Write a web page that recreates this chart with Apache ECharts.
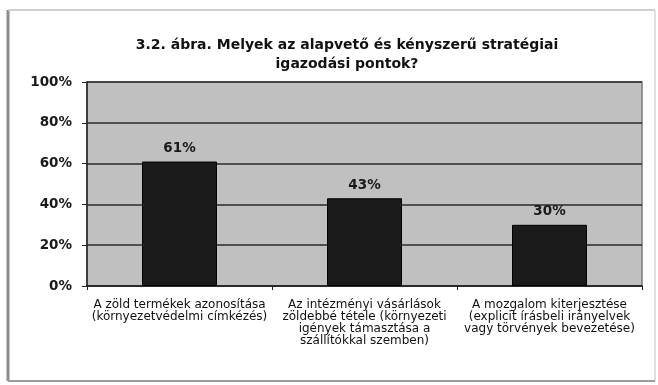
<!DOCTYPE html>
<html>
<head>
<meta charset="utf-8">
<script src="https://cdn.jsdelivr.net/npm/echarts@6/dist/echarts.min.js"></script>
<style>
  html, body { margin: 0; padding: 0; background: #ffffff; }
  #chart { width: 658px; height: 385px; }
</style>
</head>
<body>
<div id="chart"></div>
<script>
// Strategy alignment points: share of respondents (%)
const categories = [
  'A zöld termékek azonosítása\n(környezetvédelmi címkézés)',
  'Az intézményi vásárlások\nzöldebbé tétele (környezeti\nigények támasztása a\nszállítókkal szemben)',
  'A mozgalom kiterjesztése\n(explicit írásbeli irányelvek\nvagy törvények bevezetése)'
];
const values = [61, 43, 30];
const yTicks = [0, 20, 40, 60, 80, 100];
const titleText = '3.2. ábra. Melyek az alapvető és kényszerű stratégiai\nigazodási pontok?';

const FONT = 'DejaVu Sans, Verdana, sans-serif';

const chart = echarts.init(document.getElementById('chart'), null, { renderer: 'canvas' });

chart.setOption({
  backgroundColor: '#ffffff',
  animation: false,
  textStyle: { fontFamily: FONT },
  graphic: [
    // outer frame around the whole chart
    { type: 'line', shape: { x1: 8, y1: 10, x2: 8, y2: 381 }, style: { stroke: '#8c8c8c', lineWidth: 3 }, silent: true, z: -10 },
    { type: 'line', shape: { x1: 8, y1: 10, x2: 655, y2: 10 }, style: { stroke: '#cfcfcf', lineWidth: 2 }, silent: true, z: -10 },
    { type: 'line', shape: { x1: 655, y1: 10, x2: 655, y2: 381 }, style: { stroke: '#d6d6d6', lineWidth: 1.5 }, silent: true, z: -10 },
    { type: 'line', shape: { x1: 8, y1: 381, x2: 655, y2: 381 }, style: { stroke: '#9c9c9c', lineWidth: 2 }, silent: true, z: -10 }
  ],
  title: {
    text: titleText,
    left: 342,
    textAlign: 'center',
    top: 31,
    textStyle: {
      fontSize: 14,
      fontWeight: 'bold',
      color: '#111111',
      lineHeight: 19,
      fontFamily: FONT
    }
  },
  grid: {
    left: 87,
    right: 16,
    top: 82,
    bottom: 99,
    show: true,
    backgroundColor: '#c0c0c0',
    borderColor: '#7a7a7a',
    borderWidth: 1.5
  },
  xAxis: {
    type: 'category',
    data: categories,
    axisLine: { lineStyle: { color: '#222222', width: 1.5 } },
    axisTick: { show: true, length: 4, lineStyle: { color: '#222222' } },
    axisLabel: {
      interval: 0,
      fontSize: 12,
      fontFamily: FONT,
      color: '#111111',
      lineHeight: 12,
      margin: 13
    }
  },
  yAxis: {
    type: 'value',
    min: 0,
    max: 100,
    interval: 20,
    axisLine: { show: true, lineStyle: { color: '#222222', width: 1.5 } },
    axisTick: { show: true, length: 5, lineStyle: { color: '#222222' } },
    axisLabel: {
      formatter: function (v) { return yTicks.indexOf(v) >= 0 ? v + '%' : ''; },
      fontSize: 13.5,
      fontWeight: 'bold',
      fontFamily: FONT,
      color: '#1a1a1a',
      margin: 15
    },
    splitLine: { show: true, lineStyle: { color: '#2a2a2a', width: 1.5 } }
  },
  series: [
    {
      type: 'bar',
      data: values,
      barWidth: 75,
      itemStyle: { color: '#1b1b1b', borderColor: '#000000', borderWidth: 1 },
      label: {
        show: true,
        position: 'top',
        distance: 6,
        formatter: '{c}%',
        fontSize: 13.5,
        fontWeight: 'bold',
        fontFamily: FONT,
        color: '#1a1a1a'
      }
    }
  ]
});
</script>
</body>
</html>
